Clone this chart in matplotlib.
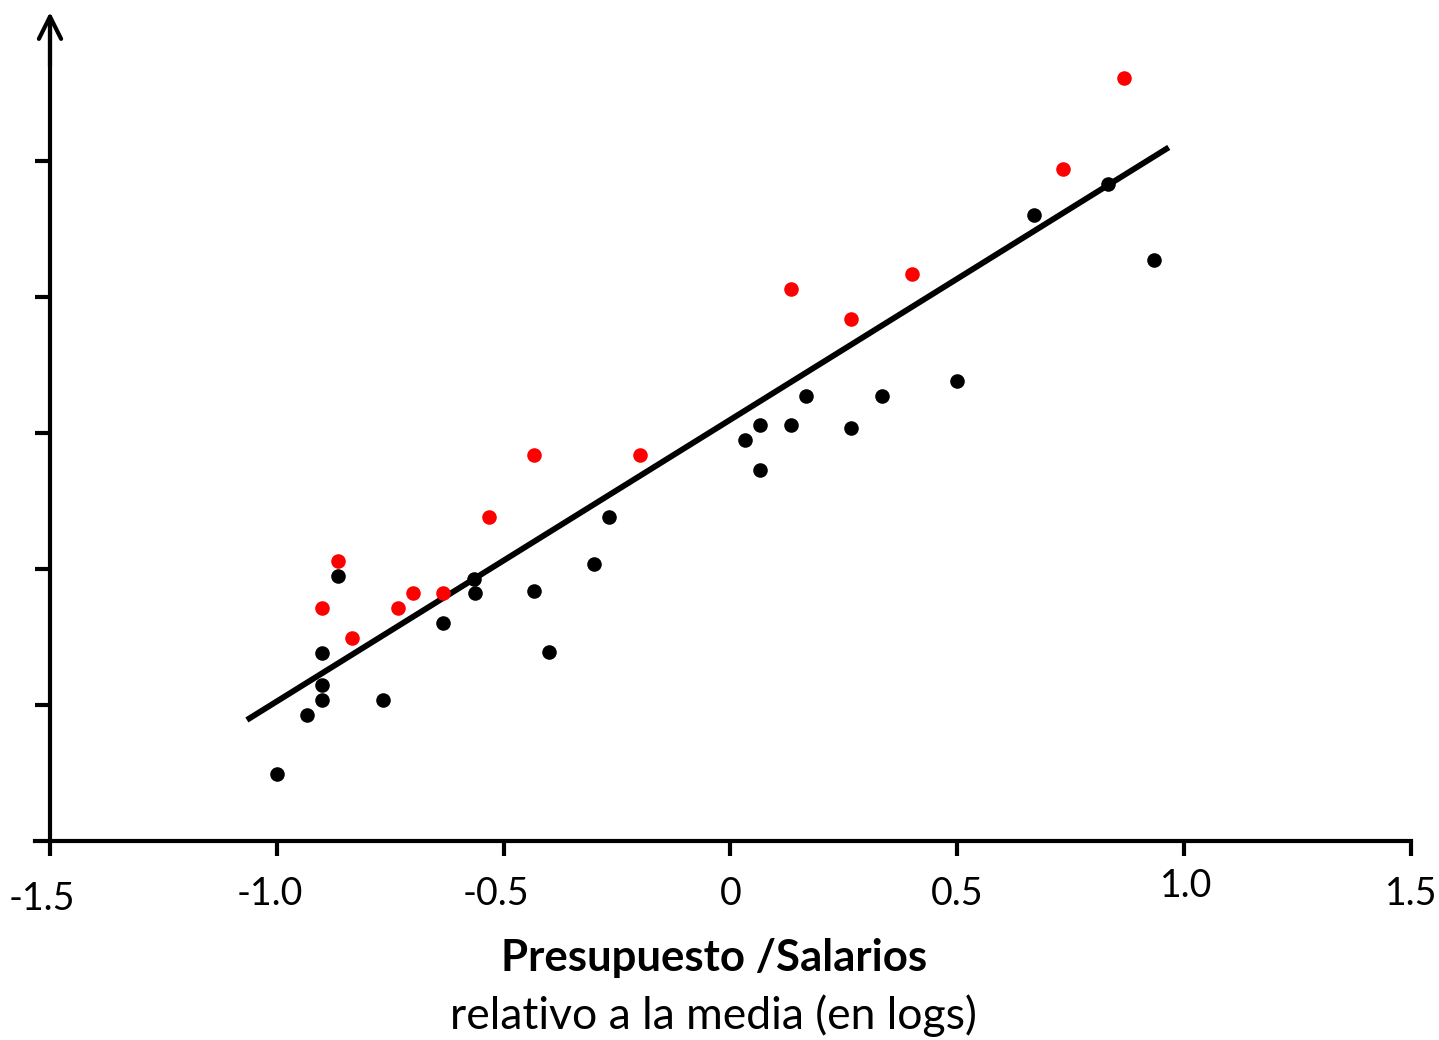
import matplotlib
matplotlib.use('Agg')
import matplotlib.pyplot as plt
import numpy as np
from matplotlib.transforms import offset_copy

plt.rcParams['font.family'] = ['Lato', 'DejaVu Sans']

# data
black_x = [-1.0, -0.933, -0.9, -0.9, -0.9, -0.865, -0.766, -0.634, -0.565, -0.563,
           -0.433, -0.4, -0.301, -0.268, 0.032, 0.066, 0.066, 0.133, 0.166, 0.265,
           0.334, 0.5, 0.669, 0.832, 0.934]
black_y = [0.49, 0.93, 1.04, 1.15, 1.38, 1.95, 1.04, 1.60, 1.93, 1.82,
           1.84, 1.39, 2.04, 2.38, 2.95, 3.06, 2.73, 3.06, 3.27, 3.04,
           3.27, 3.38, 4.60, 4.83, 4.27]
red_x = [-0.9, -0.865, -0.834, -0.733, -0.7, -0.634, -0.532, -0.433, -0.199,
         0.133, 0.265, 0.4, 0.733, 0.867]
red_y = [1.71, 2.06, 1.49, 1.71, 1.82, 1.82, 2.38, 2.84, 2.84,
         4.06, 3.84, 4.17, 4.94, 5.61]
fit_x = [-1.066, 0.966]
fit_y = [0.89, 5.10]

xticks = [-1.5, -1.0, -0.5, 0, 0.5, 1.0, 1.5]
xticklabels = ['-1.5', '-1.0', '-0.5', '0', '0.5', '1.0', '1.5']
yticks = [1, 2, 3, 4, 5]

# label tweaks (pixels): the original labels are not quite aligned
lab_dx = [-8, -7, -8, 0, 0, 2, 0]
lab_dy = [-58, -53, -53, -53, -53, -45, -53]

W, H = 1439, 1040
fig = plt.figure(figsize=(W / 100, H / 100), dpi=100)
xmin = -1.5 - 15 / 453.7
ymax = (841 - 12) / 136
ax = fig.add_axes([35 / W, 199 / H, (1411 - 35) / W, (841 - 12) / H])
ax.set_xlim(xmin, 1.5)
ax.set_ylim(0, ymax)

for s in ['top', 'right']:
    ax.spines[s].set_visible(False)
ax.spines['left'].set_position(('data', -1.5))
ax.spines['left'].set_linewidth(3.0)
ax.spines['bottom'].set_linewidth(3.0)
ax.spines['left'].set_bounds(0, ymax - 0.05)

ax.set_xticks(xticks)
ax.set_xticklabels([''] * len(xticks))
ax.set_yticks(yticks)
ax.set_yticklabels([])
ax.tick_params(axis='both', direction='out', length=11, width=3.0, color='black')

# arrow head on y axis
ax.annotate('', xy=(-1.5, ymax), xytext=(-1.5, ymax - 0.4),
            arrowprops=dict(arrowstyle='->,head_length=1.6,head_width=0.8',
                            lw=3.0, color='black', shrinkA=0, shrinkB=0),
            annotation_clip=False)

ax.plot(fit_x, fit_y, color='black', lw=4.2, solid_capstyle='butt', zorder=2)
ax.scatter(black_x, black_y, s=110, color='black', zorder=3, linewidths=0)
ax.scatter(red_x, red_y, s=110, color='#ff0000', zorder=3, linewidths=0)

for xv, lab, dx, dy in zip(xticks, xticklabels, lab_dx, lab_dy):
    tr = offset_copy(ax.transData, fig=fig, x=dx, y=dy, units='dots')
    ax.text(xv, 0, lab, transform=tr, ha='center', va='center', fontsize=27,
            clip_on=False)

fig.text(714 / W, 1 - 958 / H, 'Presupuesto /Salarios', ha='center', va='center',
         fontsize=31.5, fontweight='bold')
fig.text(713 / W, 1 - 1016 / H, 'relativo a la media (en logs)', ha='center',
         va='center', fontsize=32)

fig.savefig('out.png', dpi=100)
